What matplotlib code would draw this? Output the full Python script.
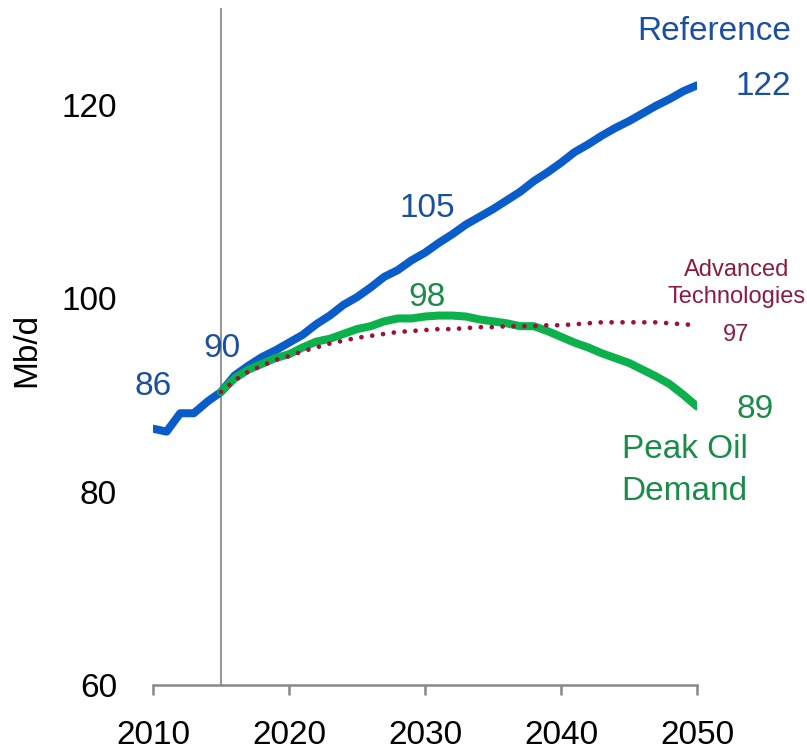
import matplotlib.pyplot as plt
import numpy as np

plt.rcParams['font.family'] = ['Liberation Sans', 'DejaVu Sans']

# Reference case, 2010-2050
ref_years = list(range(2010, 2051))
ref_values = [86.5, 86.2, 88.1, 88.1, 89.3, 90.3, 92.0, 93.0, 93.9, 94.6,
              95.4, 96.2, 97.3, 98.2, 99.3, 100.1, 101.1, 102.2, 102.9, 103.9,
              104.7, 105.7, 106.6, 107.6, 108.4, 109.2, 110.1, 111.0, 112.1, 113.0,
              114.0, 115.1, 115.9, 116.8, 117.6, 118.3, 119.1, 119.9, 120.6, 121.4,
              122.0]

# scenarios, 2015-2050
scen_years = list(range(2015, 2051))
peak_values = [90.3, 91.7, 92.6, 93.2, 93.8, 94.2, 94.9, 95.5, 95.8, 96.3,
               96.8, 97.1, 97.6, 97.9, 97.9, 98.1, 98.2, 98.2, 98.1, 97.8,
               97.6, 97.4, 97.1, 97.1, 96.6, 96.0, 95.4, 94.9, 94.3, 93.8,
               93.3, 92.6, 91.9, 91.1, 90.0, 88.8]
adv_values = [90.3, 91.5, 92.4, 93.0, 93.6, 94.0, 94.5, 94.9, 95.3, 95.6,
              95.9, 96.1, 96.3, 96.5, 96.6, 96.7, 96.8, 96.8, 96.9, 97.0,
              97.0, 97.1, 97.1, 97.1, 97.2, 97.2, 97.3, 97.4, 97.5, 97.5,
              97.5, 97.5, 97.5, 97.4, 97.3, 97.2]

blue = '#0A5CCB'
blue_txt = '#1B4FA0'
green = '#0DB14B'
green_txt = '#1A8C4A'
red = '#A0103C'
red_txt = '#8E1B3F'

big = 24
small = 17

fig = plt.figure(figsize=(8.07, 7.51), dpi=100)
ax = fig.add_axes([153 / 807, 66 / 751, 544 / 807, 677 / 751])

ax.axvline(2015, color='#999999', lw=1.5, zorder=1)
ax.plot(ref_years, ref_values, color=blue, lw=5.8, solid_capstyle='round', zorder=2)
ax.plot(scen_years, peak_values, color=green, lw=5.8, solid_capstyle='round', zorder=3)
ax.plot(scen_years, adv_values, color=red, lw=3.4, linestyle=(0, (0.01, 2.3)),
        dash_capstyle='round', zorder=4)

ax.set_xlim(2010, 2050)
ax.set_ylim(60, 130)
ax.set_xticks([2010, 2020, 2030, 2040, 2050])
ax.set_yticks([60, 80, 100, 120])

for s in ['top', 'right', 'left']:
    ax.spines[s].set_visible(False)
ax.spines['bottom'].set_color('#888888')
ax.spines['bottom'].set_linewidth(1.8)
ax.spines['bottom'].set_clip_on(False)
ax.tick_params(axis='x', length=7.2, width=1.8, color='#888888', pad=18, labelsize=big)
ax.tick_params(axis='y', length=0, pad=26, labelsize=big)

fig.text(27 / 807, 1 - 350 / 751, 'Mb/d', rotation=90, fontsize=big,
         ha='center', va='center')

# annotations
ax.text(2010.0, 90.9, '86', color=blue_txt, fontsize=big, ha='center', va='center')
ax.text(2015.1, 94.75, '90', color=blue_txt, fontsize=big, ha='center', va='center')
ax.text(2030.2, 109.3, '105', color=blue_txt, fontsize=big, ha='center', va='center')
ax.text(2054.85, 121.9, '122', color=blue_txt, fontsize=big, ha='center', va='center',
        clip_on=False)
ax.text(2051.3, 127.6, 'Reference', color=blue_txt, fontsize=big, ha='center',
        va='center', clip_on=False)
ax.text(2030.15, 100.1, '98', color=green_txt, fontsize=big, ha='center', va='center')
ax.text(2054.3, 88.5, '89', color=green_txt, fontsize=big, ha='center', va='center',
        clip_on=False)
ax.text(2049.1, 82.2, 'Peak Oil\nDemand', color=green_txt, fontsize=big, ha='center',
        va='center', linespacing=1.45, clip_on=False)
ax.text(2052.9, 101.5, 'Advanced\nTechnologies', color=red_txt, fontsize=small,
        ha='center', va='center', linespacing=1.3, clip_on=False)
ax.text(2052.9, 96.2, '97', color=red_txt, fontsize=small, ha='center', va='center',
        clip_on=False)

fig.savefig('out.png', dpi=100)
